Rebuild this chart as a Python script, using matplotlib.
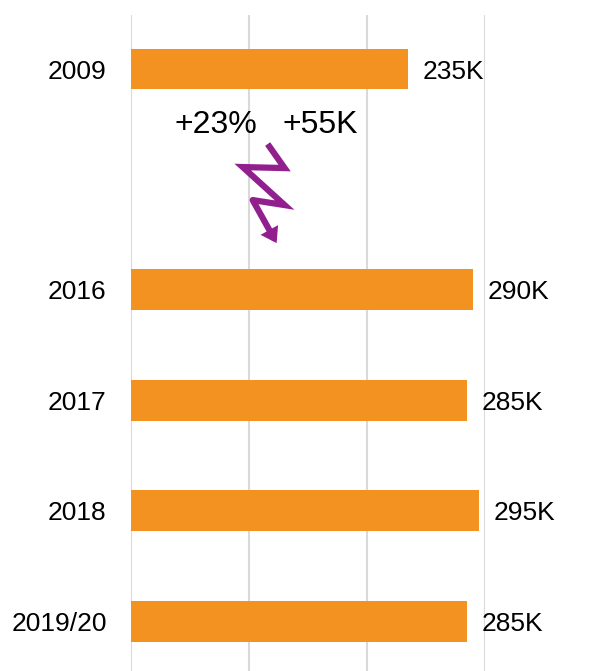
import matplotlib
matplotlib.use("Agg")
import matplotlib.pyplot as plt

categories = ["2009", "2016", "2017", "2018", "2019/20"]
positions = [0, 2, 3, 4, 5]
values = [235, 290, 285, 295, 285]
value_labels = ["235K", "290K", "285K", "295K", "285K"]
change_pct = "+23%"
change_abs = "+55K"

plt.rcParams['font.family'] = ['Liberation Sans', 'DejaVu Sans']

fig = plt.figure(figsize=(5.96, 6.71), dpi=100)
ax = fig.add_axes([131/596, 0, 354/596, 1 - 15/671])

bar_color = "#F39121"
ax.barh(positions, values, height=0.37, color=bar_color, zorder=2)

for p, v, lab in zip(positions, values, value_labels):
    ax.annotate(lab, (v, p), xytext=(10.5, 0), textcoords="offset points",
                ha="left", va="center_baseline", fontsize=19, color="black",
                annotation_clip=False)

ax.set_xlim(0, 300)
ax.set_ylim(5.45, -0.489)
ax.set_xticks([0, 100, 200, 300])
ax.xaxis.grid(True, color="#d9d9d9", linewidth=1.5, zorder=0)
ax.set_axisbelow(True)
ax.tick_params(axis="x", bottom=False, labelbottom=False)
ax.set_yticks(positions)
ax.set_yticklabels(categories, fontsize=19)
ax.tick_params(axis="y", left=False, pad=14)
for s in ax.spines.values():
    s.set_visible(False)

# annotation texts
ax.text(72, 0.475, change_pct, ha="center", va="center_baseline", fontsize=23, color="black")
ax.text(160.5, 0.475, change_abs, ha="center", va="center_baseline", fontsize=23, color="black")

# lightning arrow (pixel-derived coordinates converted to data)
def px(xp, yp):
    return ((xp - 131) / 1.183, (yp - 69) / 110.4)

pts = [px(268, 144), px(285, 168), px(243, 167), px(285, 205), px(253, 200)]
purple = "#921F8E"
xs = [p[0] for p in pts]
ys = [p[1] for p in pts]
ax.plot(xs, ys, color=purple, linewidth=4.5, solid_joinstyle="miter",
        solid_capstyle="butt", zorder=3)
tip = px(277, 243)
ax.annotate("", xy=tip, xytext=pts[-1],
            arrowprops=dict(arrowstyle="-|>,head_length=0.45,head_width=0.3",
                            color=purple, lw=4.5, shrinkA=0, shrinkB=0,
                            joinstyle="miter"),
            zorder=3)

fig.savefig("out.png", dpi=100)
